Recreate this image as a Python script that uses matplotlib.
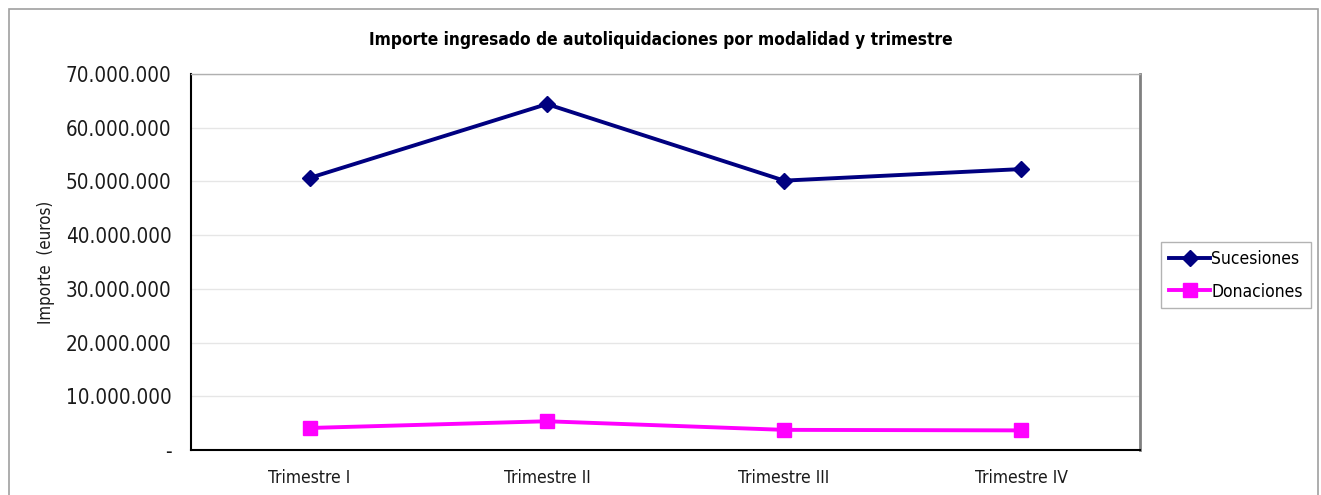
import matplotlib.pyplot as plt
from matplotlib.patches import Rectangle
from matplotlib.ticker import FuncFormatter

plt.rcParams['font.family'] = ['DejaVu Sans']
plt.rcParams['font.stretch'] = 'condensed'

# Data
trimestres = ['Trimestre I', 'Trimestre II', 'Trimestre III', 'Trimestre IV']
sucesiones = [50650000, 64400000, 50150000, 52300000]
donaciones = [4100000, 5350000, 3750000, 3650000]

W, H = 1321, 495
fig = plt.figure(figsize=(W / 100, H / 100), dpi=100)
ax = fig.add_axes([191 / W, 45 / H, 949 / W, 376 / H])

# outer chart border
fig.patches.append(Rectangle((9 / W, -0.02), 1309 / W, 1.0 - 9 / H + 0.02,
                             transform=fig.transFigure, fill=False,
                             edgecolor='#a0a0a0', linewidth=1.2))

x = range(len(trimestres))
ax.plot(x, sucesiones, color='#000080', linewidth=2.8, marker='D', markersize=8.5,
        label='Sucesiones')
ax.plot(x, donaciones, color='#ff00ff', linewidth=2.8, marker='s', markersize=10,
        label='Donaciones')

ax.set_xlim(-0.5, 3.5)
ax.set_ylim(0, 70000000)
ax.set_yticks(range(0, 70000001, 10000000))


def miles(v, pos):
    if v == 0:
        return '-'
    return f'{int(v):,}'.replace(',', '.')


ax.yaxis.set_major_formatter(FuncFormatter(miles))
ax.set_xticks(list(x))
ax.set_xticklabels(trimestres)
ax.tick_params(axis='both', length=0, labelcolor='#1a1a1a')
ax.tick_params(axis='x', pad=14, labelsize=12.5)
ax.tick_params(axis='y', pad=14, labelsize=14.8)
ax.grid(axis='y', color='#e6e6e6', linewidth=1)
ax.set_axisbelow(True)

for side in ['left', 'bottom']:
    ax.spines[side].set_color('black')
    ax.spines[side].set_linewidth(1.5)
ax.spines['top'].set_color('#b0b0b0')
ax.spines['top'].set_linewidth(1)
ax.spines['right'].set_color('#808080')
ax.spines['right'].set_linewidth(2)

ax.set_ylabel('Importe  (euros)', fontsize=12.2, labelpad=8, color='#1a1a1a')

fig.text(0.5, 1 - 40 / H, 'Importe ingresado de autoliquidaciones por modalidad y trimestre',
         ha='center', va='center', fontsize=12.4, fontweight='bold')

leg = fig.legend(loc='upper left', bbox_to_anchor=(1161 / W, 1 - 242 / H), fontsize=12.5,
                 frameon=True, fancybox=False, edgecolor='#a0a0a0',
                 handlelength=2.4, handletextpad=0.05, borderpad=0.45, labelspacing=0.85,
                 borderaxespad=0)
leg.get_frame().set_linewidth(1)

fig.savefig('out.png', dpi=100)
